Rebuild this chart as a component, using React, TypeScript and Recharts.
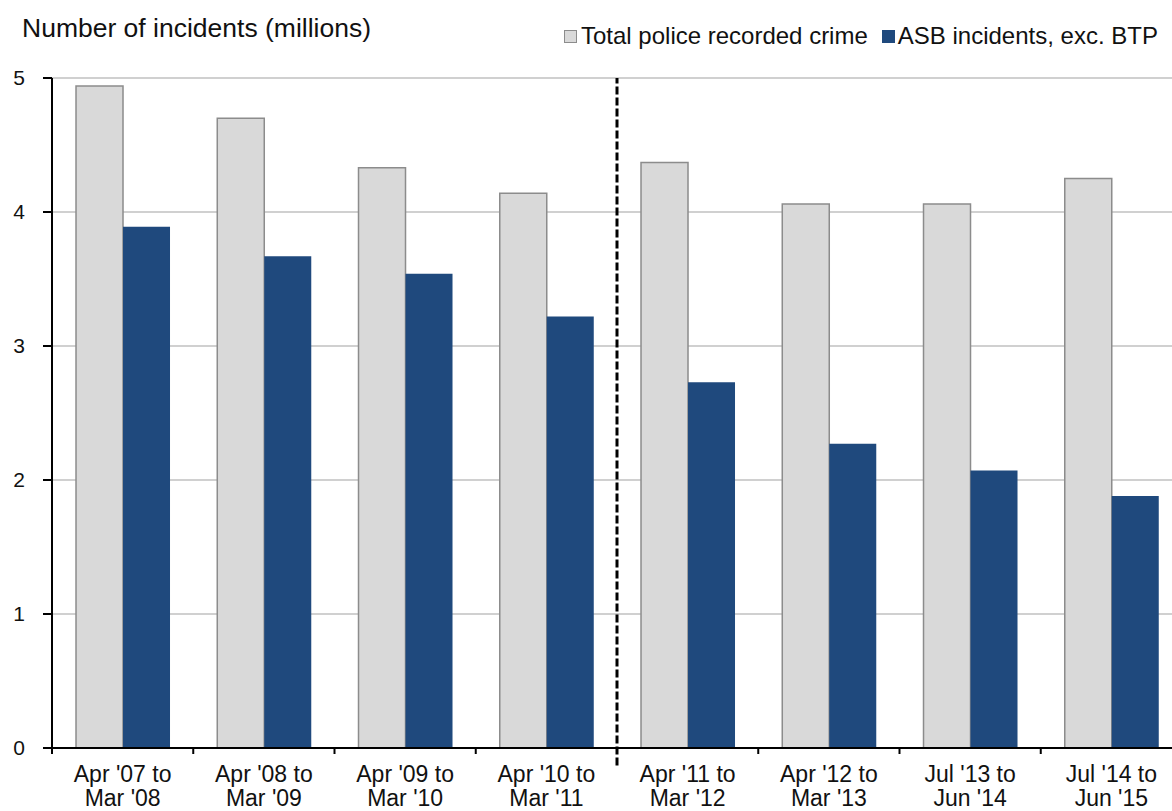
import React from "react";
import {
  BarChart,
  Bar,
  XAxis,
  YAxis,
  CartesianGrid,
  ReferenceLine,
  Legend,
} from "recharts";

const categories = [
  "Apr '07 to|Mar '08",
  "Apr '08 to|Mar '09",
  "Apr '09 to|Mar '10",
  "Apr '10 to|Mar '11",
  "Apr '11 to|Mar '12",
  "Apr '12 to|Mar '13",
  "Jul '13 to|Jun '14",
  "Jul '14 to|Jun '15",
];
const totalCrime = [4.94, 4.7, 4.33, 4.14, 4.37, 4.06, 4.06, 4.25];
const asbIncidents = [3.89, 3.67, 3.54, 3.22, 2.73, 2.27, 2.07, 1.88];
const yTicks = [0, 1, 2, 3, 4, 5];
// boundaries (integers) carry tick marks, centres (halves) carry labels
const bottomTicks = [
  0, 0.5, 1, 1.5, 2, 2.5, 3, 3.5, 4, 4.5, 5, 5.5, 6, 6.5, 7, 7.5, 8,
];
const seriesNames = ["Total police recorded crime", "ASB incidents, exc. BTP"];
const breakAt = 4;

const data = categories.map((c, i) => ({
  cat: c,
  pos: i + 0.5,
  total: totalCrime[i],
  asb: asbIncidents[i],
}));

const FONT = "'Liberation Sans', Arial, sans-serif";
const GREY = "#d9d9d9";
const GREY_STROKE = "#8c8c8c";
const BLUE = "#1f497d";

const BottomTick = (props: any) => {
  const { x, y, payload } = props;
  const v = Number(payload.value);
  if (Number.isInteger(v)) {
    return (
      <line x1={x} x2={x} y1={y} y2={y + 6} stroke="#000" strokeWidth={2} />
    );
  }
  const label = categories[Math.floor(v)] || "";
  const [l1, l2] = label.split("|");
  return (
    <g>
      <text
        x={x}
        y={y + 34}
        textAnchor="middle"
        fontFamily={FONT}
        fontSize={23}
        fill="#111"
      >
        {l1}
      </text>
      <text
        x={x}
        y={y + 58}
        textAnchor="middle"
        fontFamily={FONT}
        fontSize={23}
        fill="#111"
      >
        {l2}
      </text>
    </g>
  );
};

const LegendContent = () => (
  <div
    style={{
      display: "flex",
      alignItems: "center",
      fontFamily: FONT,
      fontSize: 24,
      color: "#111",
      whiteSpace: "nowrap",
      lineHeight: "28px",
    }}
  >
    <span
      style={{
        display: "inline-block",
        width: 11,
        height: 11,
        background: GREY,
        border: `1px solid ${GREY_STROKE}`,
        marginRight: 4,
      }}
    />
    <span>{seriesNames[0]}</span>
    <span
      style={{
        display: "inline-block",
        width: 13,
        height: 13,
        background: BLUE,
        marginLeft: 14,
        marginRight: 3,
      }}
    />
    <span>{seriesNames[1]}</span>
  </div>
);

export default function App() {
  return (
    <div
      style={{
        position: "absolute",
        left: 0,
        top: 0,
        width: 1172,
        height: 811,
        overflow: "hidden",
        background: "#fff",
      }}
    >
      <div
        style={{
          position: "absolute",
          left: 22,
          top: 15,
          fontFamily: FONT,
          fontSize: 26.5,
          lineHeight: "26px",
          color: "#111",
          whiteSpace: "nowrap",
        }}
      >
        Number of incidents (millions)
      </div>
      <BarChart
        width={1182}
        height={811}
        data={data}
        margin={{ top: 78, right: 0, left: 0, bottom: 0 }}
        barCategoryGap="17%"
        barGap={0}
      >
        <CartesianGrid
          vertical={false}
          stroke="#c0c0c0"
          strokeWidth={1.5}
        />
        <XAxis
          xAxisId={0}
          dataKey="pos"
          type="number"
          scale="linear"
          domain={[0, 8]}
          ticks={bottomTicks}
          interval={0}
          tickSize={0}
          tickMargin={0}
          tickLine={false}
          tick={<BottomTick />}
          height={63}
          axisLine={{ stroke: "#000", strokeWidth: 2 }}
          allowDataOverflow
        />
        <XAxis xAxisId={1} dataKey="cat" hide height={0} />
        <YAxis
          width={52}
          domain={[0, 5]}
          ticks={yTicks}
          tickSize={9}
          tickMargin={18}
          axisLine={{ stroke: "#000", strokeWidth: 2 }}
          tickLine={{ stroke: "#000", strokeWidth: 2 }}
          tick={{ fontFamily: FONT, fontSize: 21, fill: "#111" }}
        />
        <Legend
          verticalAlign="middle"
          align="center"
          content={<LegendContent />}
          wrapperStyle={{ left: 564, top: 22, width: "auto" }}
        />
        <Bar
          xAxisId={1}
          dataKey="total"
          name={seriesNames[0]}
          fill={GREY}
          stroke={GREY_STROKE}
          strokeWidth={1.5}
          isAnimationActive={false}
        />
        <Bar
          xAxisId={1}
          dataKey="asb"
          name={seriesNames[1]}
          fill={BLUE}
          isAnimationActive={false}
        />
        <ReferenceLine
          xAxisId={0}
          segment={[
            { x: breakAt, y: -0.13 },
            { x: breakAt, y: 5 },
          ]}
          stroke="#000"
          strokeWidth={3}
          strokeDasharray="8 3"
          ifOverflow="visible"
        />
      </BarChart>
    </div>
  );
}
